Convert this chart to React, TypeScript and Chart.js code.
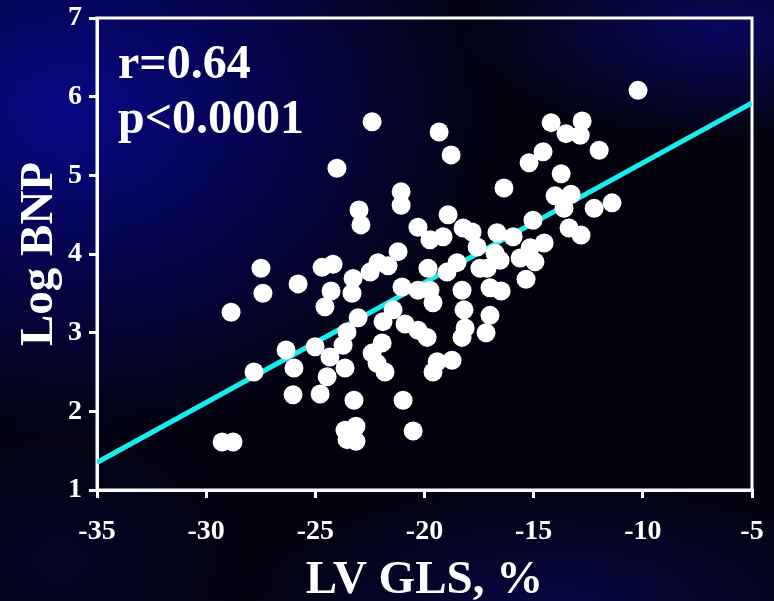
import React, { useEffect, useRef } from 'react';
import { Chart, registerables } from 'chart.js';

Chart.register(...registerables);

// LV global longitudinal strain (%) per patient
const GLS = [
  -29.27, -28.77, -28.86, -27.81, -27.49, -27.4, -25.79, -26.34, -25.98, -26.02,
  -24.78, -25.01, -24.69, -24.19, -24.28, -24.56, -24.01, -23.0, -22.91, -23.27,
  -23.32, -22.49, -22.13, -21.67, -21.21, -21.07, -21.07, -23.04, -23.55, -23.73,
  -24.33, -24.46, -23.64, -22.4, -21.94, -21.81, -22.17, -21.44, -21.9, -20.89,
  -20.3, -19.88, -23.23, -20.98, -20.52, -23.64, -23.14, -23.55, -23.14, -21.03,
  -20.3, -19.75, -19.61, -20.3, -19.75, -19.15, -18.92, -18.23, -17.82, -19.84,
  -18.97, -18.51, -18.28, -19.33, -18.78, -22.4, -19.61, -19.42, -18.74, -18.28,
  -18.14, -18.19, -17.18, -17.0, -17.0, -16.49, -17.59, -17.13, -16.54, -16.68,
  -15.94, -16.77, -15.62, -14.94, -15.16, -14.52, -17.46, -15.35, -16.36, -15.03,
  -14.57, -15.21, -14.2, -12.78, -13.52, -12.87, -12.0, -13.74, -14.02, -13.29,
  -13.61, -12.23, -11.41, -13.38, -12.83, -10.22,
];

// Log BNP per patient (same order)
const LOG_BNP = [
  1.61, 1.61, 3.26, 2.5, 3.82, 3.5, 3.62, 2.78, 2.55, 2.21,
  2.22, 2.82, 3.83, 3.87, 3.53, 3.33, 5.09, 4.56, 4.37, 3.69,
  3.5, 3.77, 3.89, 3.85, 4.03, 4.79, 4.62, 3.19, 3.01, 2.84,
  2.69, 2.44, 2.55, 2.74, 2.87, 2.5, 2.61, 3.29, 3.14, 3.11,
  3.03, 2.94, 2.14, 2.14, 1.75, 1.76, 1.81, 1.64, 1.62, 3.58,
  3.54, 3.54, 3.38, 4.34, 4.18, 4.22, 4.5, 4.33, 4.28, 3.82,
  3.77, 3.89, 3.54, 5.55, 5.26, 5.68, 2.5, 2.63, 2.65, 2.94,
  3.06, 3.29, 3.0, 3.22, 3.57, 3.53, 4.09, 3.82, 3.92, 4.27,
  4.22, 4.01, 3.95, 3.9, 4.08, 4.14, 3.82, 3.68, 4.84, 4.43,
  5.3, 5.16, 5.67, 5.69, 5.53, 5.51, 5.32, 5.02, 4.74, 4.76,
  4.58, 4.58, 4.65, 4.33, 4.24, 6.08,
];

// Regression line end points
const FIT_X = [-35, -5];
const FIT_Y = [1.35, 5.92];

// Axis ticks
const X_TICKS = [-35, -30, -25, -20, -15, -10, -5];
const Y_TICKS = [1, 2, 3, 4, 5, 6, 7];

const STATS = ['r=0.64', 'p<0.0001'];
const X_TITLE = 'LV GLS, %';
const Y_TITLE = 'Log BNP';

const SERIF = '"Liberation Serif", "Times New Roman", serif';

const framePlugin = {
  id: 'frame',
  beforeDatasetsDraw(chart: any) {
    const { ctx, chartArea } = chart;
    ctx.save();
    ctx.strokeStyle = '#ffffff';
    ctx.lineWidth = 3;
    ctx.strokeRect(chartArea.left, chartArea.top, chartArea.right - chartArea.left, chartArea.bottom - chartArea.top);
    ctx.restore();
  },
  afterDraw(chart: any) {
    const { ctx, chartArea } = chart;
    ctx.save();
    ctx.fillStyle = '#ffffff';
    ctx.font = `bold 48px ${SERIF}`;
    ctx.textBaseline = 'alphabetic';
    ctx.textAlign = 'left';
    STATS.forEach((s, i) => {
      ctx.fillText(s, chartArea.left + 21, chartArea.top + 60 + i * 55);
    });
    ctx.restore();
  },
};

export default function App() {
  const ref = useRef<HTMLCanvasElement | null>(null);

  useEffect(() => {
    document.body.style.margin = '0';
    const canvas = ref.current;
    if (!canvas) return;
    const points = GLS.map((x, i) => ({ x, y: LOG_BNP[i] }));
    const fit = FIT_X.map((x, i) => ({ x, y: FIT_Y[i] }));
    const chart = new Chart(canvas, {
      type: 'scatter',
      data: {
        datasets: [
          {
            label: 'Patients',
            data: points,
            backgroundColor: '#ffffff',
            borderColor: '#ffffff',
            borderWidth: 0,
            pointRadius: 9.5,
            order: 0,
          },
          {
            type: 'line',
            label: 'Fit',
            data: fit,
            borderColor: '#19ecec',
            borderWidth: 5,
            pointRadius: 0,
            fill: false,
            order: 1,
          } as any,
        ],
      },
      options: {
        animation: false,
        responsive: true,
        maintainAspectRatio: false,
        layout: { padding: { left: 0, right: 22, top: 18, bottom: 0 } },
        plugins: {
          legend: { display: false },
          tooltip: { enabled: false },
        },
        scales: {
          x: {
            type: 'linear',
            min: -35,
            max: -5,
            afterBuildTicks: (s: any) => {
              s.ticks = X_TICKS.map((v) => ({ value: v }));
            },
            afterFit: (s: any) => {
              s.height = 111;
              s.paddingLeft = 0;
              s.paddingRight = 0;
            },
            ticks: {
              color: '#ffffff',
              font: { family: SERIF, size: 28, weight: 'bold' },
              padding: 17,
              maxRotation: 0,
              autoSkip: false,
            },
            grid: {
              display: true,
              drawOnChartArea: false,
              drawTicks: true,
              tickLength: 8,
              color: '#ffffff',
              lineWidth: 3,
            },
            border: { display: true, color: '#ffffff', width: 3 },
            title: {
              display: true,
              text: X_TITLE,
              color: '#ffffff',
              font: { family: SERIF, size: 47, weight: 'bold', lineHeight: 1 },
              padding: { top: 0, bottom: -3 },
            },
          },
          y: {
            type: 'linear',
            min: 1,
            max: 7,
            afterBuildTicks: (s: any) => {
              s.ticks = Y_TICKS.map((v) => ({ value: v }));
            },
            afterFit: (s: any) => {
              s.width = 97;
              s.paddingTop = 0;
              s.paddingBottom = 0;
            },
            ticks: {
              color: '#ffffff',
              font: { family: SERIF, size: 28, weight: 'bold' },
              padding: 7,
              autoSkip: false,
            },
            grid: {
              display: true,
              drawOnChartArea: false,
              drawTicks: true,
              tickLength: 8,
              color: '#ffffff',
              lineWidth: 3,
            },
            border: { display: true, color: '#ffffff', width: 3 },
            title: {
              display: true,
              text: Y_TITLE,
              color: '#ffffff',
              font: { family: SERIF, size: 47, weight: 'bold', lineHeight: 1 },
              padding: { top: 16, bottom: 0 },
            },
          },
        },
      },
      plugins: [framePlugin],
    });
    return () => chart.destroy();
  }, []);

  const bg = [
    'radial-gradient(ellipse 430px 330px at 70px 110px, rgba(8,8,140,0.95), rgba(6,6,110,0.55) 55%, rgba(0,0,60,0) 100%)',
    'radial-gradient(ellipse 260px 110px at 720px 30px, rgba(10,10,120,0.75), rgba(0,0,0,0) 100%)',
    'radial-gradient(ellipse 320px 120px at 560px 600px, rgba(10,10,110,0.55), rgba(0,0,0,0) 100%)',
    'radial-gradient(ellipse 200px 160px at 60px 560px, rgba(5,5,60,0.5), rgba(0,0,0,0) 100%)',
    '#02020e',
  ].join(', ');

  return (
    <div style={{ width: 774, height: 601, position: 'relative', background: bg }}>
      <canvas ref={ref} />
    </div>
  );
}
